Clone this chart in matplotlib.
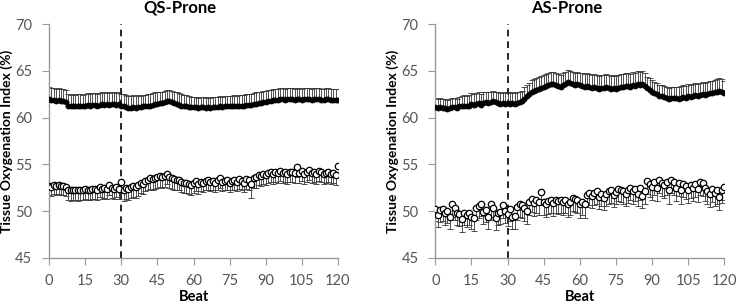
import numpy as np
import matplotlib
matplotlib.use("Agg")
import matplotlib.pyplot as plt

plt.rcParams['font.family'] = ['Lato', 'DejaVu Sans']

beats = np.arange(0, 121)

# QS-Prone, filled circles (mean, upper SE)
qs_filled = [62.0, 61.9, 61.9, 61.8, 61.9, 61.8, 61.8, 61.7,
             61.3, 61.2, 61.3, 61.2, 61.3, 61.3, 61.2, 61.3, 61.4, 61.3, 61.4, 61.4, 61.3,
             61.4, 61.5, 61.4, 61.5, 61.4, 61.5, 61.5, 61.4, 61.5,
             61.2, 61.2, 61.1, 61.0, 61.0, 61.1, 61.0, 61.1,
             61.1, 61.2, 61.2, 61.3, 61.3, 61.4, 61.5, 61.5, 61.6, 61.6, 61.7, 61.8, 61.8,
             61.7, 61.6, 61.5, 61.4, 61.3, 61.2, 61.2, 61.1,
             61.1, 61.1, 61.1, 61.0, 61.1, 61.1, 61.0, 61.1, 61.0, 61.1, 61.1, 61.1, 61.2, 61.1,
             61.2, 61.2, 61.2, 61.2, 61.3, 61.2, 61.3, 61.3, 61.3, 61.4, 61.4, 61.4, 61.5,
             61.5, 61.6, 61.6, 61.7, 61.7, 61.8, 61.8, 61.9, 61.9, 61.9, 62.0, 62.0, 61.9, 62.0, 62.0,
             62.0, 61.9, 62.0, 62.0, 61.9, 62.0, 62.0, 62.0, 61.9, 62.0,
             62.0, 62.0, 61.9, 61.9, 62.0, 62.0, 61.9, 61.9, 61.9, 61.9]
qs_filled_err = [1.3] * 8 + [1.2] * 22 + [1.3] * 8 + [1.2] * 21 + [1.1] * 27 + [1.2] * 35

# QS-Prone, open circles (mean, lower SE)
qs_open = [52.7, 52.6, 52.8, 52.7, 52.8, 52.7, 52.7, 52.6,
           52.3, 52.2, 52.3, 52.3, 52.2, 52.3, 52.3, 52.4, 52.3, 52.3, 52.4,
           52.4, 52.3, 52.6, 52.4, 52.5, 52.4, 52.8, 52.5, 52.4, 52.6, 52.4,
           53.1, 52.3, 52.5, 52.4, 52.6, 52.7, 52.6, 52.8,
           53.0, 52.9, 53.2, 53.3, 53.5, 53.4, 53.5, 53.6, 53.7, 53.6, 53.7, 54.0, 53.6,
           53.5, 53.4, 53.3, 53.3, 53.1, 53.0, 53.0, 52.9, 52.8, 53.0, 53.2, 52.9,
           53.1, 53.0, 53.2, 53.3, 53.1, 53.2, 53.0, 53.3, 53.5, 53.1, 53.2, 53.3,
           53.0, 53.2, 53.3, 53.1, 53.4, 53.2, 53.0, 53.4, 53.3, 52.9, 53.5,
           53.6, 53.9, 53.8, 54.0, 53.9, 54.1, 54.2, 54.0, 54.2, 54.1, 54.3, 54.1, 54.2, 54.0, 54.2,
           54.2, 54.1, 54.7, 54.1, 54.3, 54.0, 54.2, 54.4, 54.1, 54.2,
           54.0, 54.3, 54.2, 54.0, 54.1, 54.2, 54.0, 54.1, 53.9, 54.8]
qs_open_err = [1.0] * 8 + [1.1] * 22 + [1.2] * 8 + [1.1] * 25 + [1.0] * 21 + [1.5, 1.0] + [1.1] * 35

# AS-Prone, filled circles
as_filled = [61.1, 61.0, 61.1, 61.0, 61.0, 60.9, 61.0, 61.1, 61.1, 61.0, 61.2,
             61.2, 61.3, 61.2, 61.3, 61.5, 61.4, 61.5, 61.6, 61.4, 61.6,
             61.7, 61.6, 61.7, 61.8, 61.7, 61.6, 61.5, 61.6, 61.5,
             61.6, 61.5, 61.6, 61.5, 61.6, 61.7, 61.8,
             62.0, 62.3, 62.5, 62.8, 62.9, 63.0, 63.1, 63.2, 63.3, 63.4, 63.5, 63.6, 63.6,
             63.5, 63.4, 63.3, 63.5, 63.6, 63.8, 63.7, 63.6, 63.5, 63.6, 63.5,
             63.4, 63.3, 63.4, 63.3, 63.2, 63.3, 63.2, 63.1, 63.2, 63.2,
             63.3, 63.2, 63.1, 63.2, 63.1, 63.2, 63.3, 63.3, 63.4, 63.4,
             63.3, 63.5, 63.4, 63.6, 63.5, 63.6, 63.4,
             63.2, 63.0, 62.8, 62.6, 62.5, 62.3, 62.3, 62.2, 62.1, 62.0, 62.1, 62.1, 62.1,
             62.0, 62.1, 62.2, 62.1, 62.3, 62.2, 62.3, 62.4, 62.3, 62.4,
             62.5, 62.4, 62.5, 62.6, 62.6, 62.7, 62.8, 62.9, 62.8, 62.6]
as_filled_err = [1.0] * 11 + [1.1] * 26 + [1.25] * 13 + [1.3] * 11 + [1.4] * 27 + [1.2] * 13 + [1.3] * 20

# AS-Prone, open circles
as_open = [50.2, 49.6, 50.1, 50.2, 49.8, 50.0, 49.4, 50.7, 50.3, 49.8,
           49.7, 49.1, 49.8, 49.6, 49.8, 49.4, 49.2, 50.3, 50.5, 50.8,
           49.9, 50.1, 49.4, 50.7, 50.3, 49.3, 49.8, 49.9, 50.6, 50.0,
           49.7, 50.2, 49.4,
           49.5, 50.4, 50.8, 50.6, 50.3, 50.0, 51.0, 51.3, 50.9, 51.2, 51.0,
           52.0,
           51.0, 50.8, 51.1, 51.2, 50.9, 51.2, 51.1, 51.2, 51.0, 51.2,
           50.8, 51.0, 51.4, 51.3, 51.2, 50.7, 51.0, 50.7,
           51.7, 51.9, 51.6, 51.9, 52.1, 51.5, 51.8, 51.4, 51.8, 52.1,
           52.2, 51.7, 52.0, 52.4, 52.3, 52.1, 51.8, 52.2, 52.5, 52.1,
           52.4, 51.8, 52.5, 51.6, 52.1,
           53.2, 52.9, 52.6, 53.1, 52.5, 53.3, 53.0, 52.8, 53.1, 52.2, 53.3, 53.1, 52.5,
           53.0, 52.2, 52.9, 52.7, 52.3, 52.8, 52.5, 52.9, 52.4, 53.1,
           53.0, 52.5, 52.1, 51.8, 52.4, 51.9, 52.2, 51.5, 52.3, 52.6]
as_open_err = [1.3] * 33 + [1.4] * 30 + [1.3] * 25 + [1.4] * 33

titles = ["QS-Prone", "AS-Prone"]
panels = [(qs_filled, qs_filled_err, qs_open, qs_open_err),
          (as_filled, as_filled_err, as_open, as_open_err)]
xticks = np.arange(0, 121, 15)
yticks = np.arange(45, 71, 5)
onset = 30

W, H = 736, 304
fig = plt.figure(figsize=(W / 100, H / 100), dpi=100)
lefts = [49, 435.3]
width = 289
for left, title, (f, fe, o, oe) in zip(lefts, titles, panels):
    ax = fig.add_axes([left / W, 1 - 257.7 / H, width / W, 233.4 / H])
    f = np.array(f); fe = np.array(fe); o = np.array(o); oe = np.array(oe)
    # upper-only error bars for filled, lower-only for open
    ax.errorbar(beats, f, yerr=[np.zeros_like(fe), fe], fmt='none', ecolor='#333333',
                elinewidth=0.6, capsize=2.5, capthick=0.6, zorder=2)
    ax.errorbar(beats, o, yerr=[oe, np.zeros_like(oe)], fmt='none', ecolor='#333333',
                elinewidth=0.6, capsize=2.5, capthick=0.6, zorder=2)
    ax.plot(beats, f, 'o', color='black', markersize=3.6, markeredgewidth=0.6, zorder=3)
    ax.plot(beats, o, 'o', markerfacecolor='white', markeredgecolor='black',
            markersize=4.6, markeredgewidth=0.9, zorder=3)
    ax.axvline(onset, color='black', linestyle=(0, (4, 3)), linewidth=1.2, zorder=1)

    ax.set_xlim(0, 120)
    ax.set_ylim(45, 70)
    ax.set_xticks(xticks)
    ax.set_yticks(yticks)
    for s in ['top', 'right']:
        ax.spines[s].set_visible(False)
    for s in ['left', 'bottom']:
        ax.spines[s].set_color('#999999')
        ax.spines[s].set_linewidth(1.0)
    ax.tick_params(direction='out', length=5, color='#999999', labelsize=10.5,
                   labelcolor='#555555')
    ax.tick_params(axis='x', pad=6.5)
    ax.tick_params(axis='y', pad=7)
    ax.set_xlabel("Beat", fontsize=10.5, fontweight='bold', labelpad=1.5)
    ax.set_ylabel("Tissue Oxygenation Index (%)", fontsize=10, fontweight='bold', labelpad=1.5)
    # title sits a little left of the plot centre, as in the source chart
    fig.text((left + width / 2 - 13.5) / W, 1 - 12.7 / H, title, ha='center',
             va='baseline', fontsize=12, fontweight='bold')

fig.savefig("out.png", dpi=100)
